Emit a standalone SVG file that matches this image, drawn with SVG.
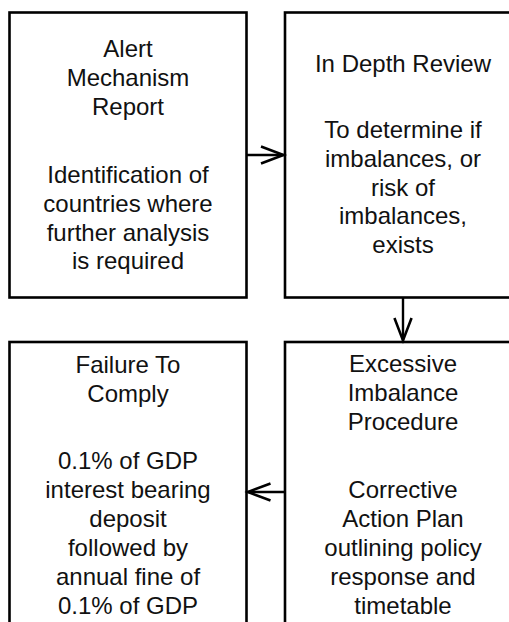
<svg xmlns="http://www.w3.org/2000/svg" width="509" height="622" viewBox="0 0 509 622">
<style>
.box{fill:#fff;stroke:#000;stroke-width:2.6}
.t{font-family:"Liberation Sans",Arial,sans-serif;font-size:24px;fill:#111;text-anchor:middle}
.c{fill:none;stroke:#000;stroke-width:2.4}
</style>
<defs>
<marker id="ah" markerUnits="userSpaceOnUse" markerWidth="30" markerHeight="30" viewBox="-24 -12 28 24" refX="0" refY="0" orient="auto">
<path d="M-21,-8 L0,0 L-21,8" fill="none" stroke="#000" stroke-width="2.4"/>
</marker>
</defs>
<g id="amr">
<rect class="box" x="9.5" y="12.5" width="237" height="285"/>
<text class="t" x="128" y="57">Alert</text>
<text class="t" x="128" y="86">Mechanism</text>
<text class="t" x="128" y="115">Report</text>
<text class="t" x="128" y="183">Identification of</text>
<text class="t" x="128" y="212">countries where</text>
<text class="t" x="128" y="241">further analysis</text>
<text class="t" x="128" y="269">is required</text>
</g>
<g id="idr">
<rect class="box" x="285" y="12.5" width="240" height="285"/>
<text class="t" x="403" y="72">In Depth Review</text>
<text class="t" x="403" y="138">To determine if</text>
<text class="t" x="403" y="167">imbalances, or</text>
<text class="t" x="403" y="196">risk of</text>
<text class="t" x="403" y="224">imbalances,</text>
<text class="t" x="403" y="253">exists</text>
</g>
<g id="ftc">
<rect class="box" x="9.5" y="342" width="237" height="300"/>
<text class="t" x="128" y="373">Failure To</text>
<text class="t" x="128" y="402">Comply</text>
<text class="t" x="128" y="469">0.1% of GDP</text>
<text class="t" x="128" y="498">interest bearing</text>
<text class="t" x="128" y="527">deposit</text>
<text class="t" x="128" y="556">followed by</text>
<text class="t" x="128" y="585">annual fine of</text>
<text class="t" x="128" y="614">0.1% of GDP</text>
</g>
<g id="eip">
<rect class="box" x="285" y="342" width="240" height="300"/>
<text class="t" x="403" y="372">Excessive</text>
<text class="t" x="403" y="401">Imbalance</text>
<text class="t" x="403" y="430">Procedure</text>
<text class="t" x="403" y="498">Corrective</text>
<text class="t" x="403" y="527">Action Plan</text>
<text class="t" x="403" y="556">outlining policy</text>
<text class="t" x="403" y="585">response and</text>
<text class="t" x="403" y="614">timetable</text>
</g>
<g id="connectors">
<line class="c" x1="247" y1="155" x2="283.5" y2="155" marker-end="url(#ah)"/>
<line class="c" x1="403" y1="298" x2="403" y2="340.5" marker-end="url(#ah)"/>
<line class="c" x1="284.5" y1="492" x2="248" y2="492" marker-end="url(#ah)"/>
</g>
</svg>
